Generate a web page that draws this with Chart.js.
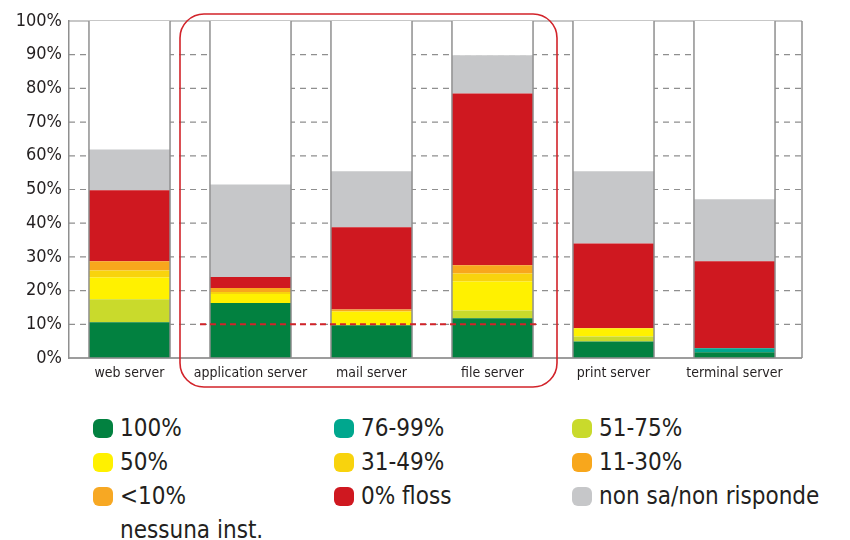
<!DOCTYPE html>
<html>
<head>
<meta charset="utf-8">
<script src="https://cdn.jsdelivr.net/npm/chart.js@4"></script>
<style>
  body { margin: 0; background: #fff; }
  #wrap { position: relative; width: 850px; height: 540px; overflow: hidden; }
  #box { position: absolute; left: 0; top: 0; width: 850px; height: 395px; }
  #legend {
    position: absolute; left: 93px; top: 411px;
    display: grid; grid-template-columns: 241px 238px auto; grid-auto-rows: 34px;
    font-family: 'DejaVu Sans Condensed', 'Liberation Sans Narrow', sans-serif;
    font-size: 24px; color: #231f20;
  }
  .item { display: flex; align-items: flex-start; line-height: 34px; white-space: pre-line; }
  .dot { width: 20px; height: 19px; border-radius: 6px; margin: 8px 7px 0 0; flex: none; }
</style>
</head>
<body>
<div id="wrap">
  <div id="box"><canvas id="myChart"></canvas></div>
  <div id="legend"></div>
</div>
<script>
const categories = ['web server', 'application server', 'mail server', 'file server', 'print server', 'terminal server'];
const yTicks = [0, 10, 20, 30, 40, 50, 60, 70, 80, 90, 100];

// percentuali, dal basso verso l'alto
const full100 = [10.6, 16.3, 9.7, 11.8, 4.9, 1.7];
const p76to99 = [0, 0, 0, 0, 0, 1.2];
const p51to75 = [6.8, 0, 0, 2.3, 1.5, 0];
const p50 = [6.5, 2.7, 4.1, 8.6, 2.4, 0];
const p31to49 = [2.1, 0.6, 0, 2.4, 0, 0];
const p11to30 = [2.7, 1.2, 0.6, 2.4, 0, 0];
const pUnder10 = [0, 0, 0, 0, 0, 0];
const floss = [21.1, 3.2, 24.4, 51.0, 25.2, 25.8];
const noAnswer = [12.1, 27.5, 16.6, 11.3, 21.4, 18.4];

const seriesLabels = ['100%', '76-99%', '51-75%', '50%', '31-49%', '11-30%', '<10%\nnessuna inst.', '0% floss', 'non sa/non risponde'];
const seriesData = [full100, p76to99, p51to75, p50, p31to49, p11to30, pUnder10, floss, noAnswer];
const seriesColors = ['#028140', '#00a78e', '#c9da2c', '#fff100', '#f8d30d', '#f8a71c', '#f7a823', '#cf1820', '#c6c7c9'];

// the empty part of each column, up to 100%
const rest = categories.map((c, i) => 100 - seriesData.reduce((t, s) => t + s[i], 0));

const FONT = "'DejaVu Sans Condensed', 'Liberation Sans Narrow', sans-serif";
const GRID = '#8f8f8f';

const datasets = seriesData.map((data, i) => ({
    label: seriesLabels[i],
    data: data,
    backgroundColor: seriesColors[i],
    borderWidth: 0
}));
datasets.push({ label: 'rest', data: rest, backgroundColor: '#ffffff', borderWidth: 0 });

const framePlugin = {
    id: 'frame',
    beforeDatasetsDraw(chart) {
        const { ctx, chartArea: a, scales: { y } } = chart;
        const right = a.right + 7;
        ctx.save();
        ctx.strokeStyle = GRID;
        ctx.lineWidth = 1.2;
        yTicks.forEach(v => {
            const py = y.getPixelForValue(v);
            ctx.setLineDash(v === 0 || v === 100 ? [] : [6, 5]);
            ctx.beginPath();
            ctx.moveTo(a.left, py);
            ctx.lineTo(right, py);
            ctx.stroke();
        });
        ctx.setLineDash([]);
        ctx.lineWidth = 1.5;
        ctx.beginPath();
        ctx.moveTo(right, y.getPixelForValue(100));
        ctx.lineTo(right, y.getPixelForValue(0));
        ctx.stroke();
        ctx.restore();
    },
    afterDatasetsDraw(chart) {
        const { ctx, chartArea: a, scales: { x, y } } = chart;
        const bars = chart.getDatasetMeta(0).data;
        const top = y.getPixelForValue(100);
        const bottom = y.getPixelForValue(0);
        ctx.save();
        // column outlines
        ctx.strokeStyle = GRID;
        ctx.lineWidth = 1.5;
        bars.forEach(b => {
            [b.x - b.width / 2, b.x + b.width / 2].forEach(px => {
                ctx.beginPath();
                ctx.moveTo(px, top);
                ctx.lineTo(px, bottom);
                ctx.stroke();
            });
        });
        ctx.beginPath();
        ctx.moveTo(a.left, bottom);
        ctx.lineTo(a.right + 7, bottom);
        ctx.stroke();

        // red 10% threshold across the highlighted group
        const y10 = y.getPixelForValue(10);
        ctx.strokeStyle = '#d2232a';
        ctx.lineWidth = 2;
        ctx.setLineDash([6, 4]);
        ctx.beginPath();
        ctx.moveTo(bars[1].x - bars[1].width / 2 - 10, y10);
        ctx.lineTo(bars[3].x + bars[3].width / 2 + 6, y10);
        ctx.stroke();

        // rounded frame around application/mail/file server
        ctx.setLineDash([]);
        ctx.lineWidth = 1.6;
        const l = x.getPixelForValue(0.5) - 10;
        const r = x.getPixelForValue(3.5) + 4;
        const t = a.top - 7;
        const btm = a.bottom + 29;
        ctx.beginPath();
        ctx.roundRect(l, t, r - l, btm - t, 24);
        ctx.stroke();
        ctx.restore();
    }
};

const config = {
    type: 'bar',
    data: { labels: categories, datasets: datasets },
    options: {
        responsive: true,
        maintainAspectRatio: false,
        animation: false,
        barPercentage: 0.67,
        categoryPercentage: 1,
        layout: { padding: { left: 0, right: 55, top: 21, bottom: 0 } },
        plugins: { legend: { display: false }, tooltip: { enabled: false } },
        scales: {
            x: {
                stacked: true,
                grid: { display: false, drawTicks: false },
                border: { display: false },
                ticks: { color: '#231f20', font: { family: FONT, size: 14 }, padding: 7 },
                afterFit: s => { s.height = 37; }
            },
            y: {
                stacked: true,
                min: 0,
                max: 100,
                grid: { display: false, drawTicks: false },
                border: { display: true, color: GRID, width: 1.5 },
                ticks: {
                    stepSize: 10,
                    color: '#231f20',
                    font: { family: FONT, size: 18 },
                    padding: 7,
                    callback: v => v + '%'
                },
                afterFit: s => { s.width = 69; }
            }
        }
    },
    plugins: [framePlugin]
};

new Chart(document.getElementById('myChart'), config);

// legend in three columns, same order as the reference
const legendDiv = document.getElementById('legend');
const order = [0, 1, 2, 3, 4, 5, 6, 7, 8];
order.forEach(i => {
    const item = document.createElement('div');
    item.className = 'item';
    item.innerHTML = `<span class="dot" style="background:${seriesColors[i]}"></span><span></span>`;
    item.lastChild.textContent = seriesLabels[i];
    legendDiv.appendChild(item);
});
</script>
</body>
</html>
